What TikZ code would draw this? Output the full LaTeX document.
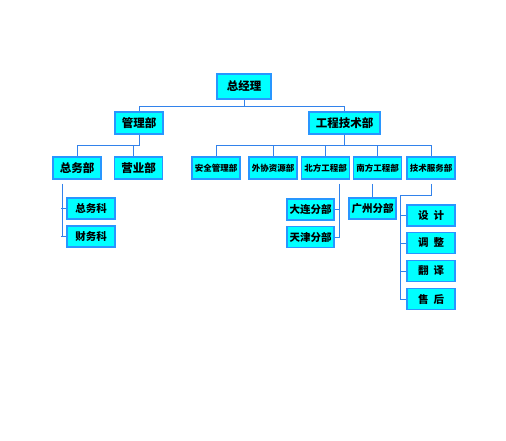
\documentclass[tikz,border=0pt]{standalone}
\usepackage{fontspec}
\setmainfont{Noto Sans CJK SC}
\usetikzlibrary{positioning}

\definecolor{boxedge}{RGB}{40,150,255}
\definecolor{boxfill}{RGB}{0,255,255}
\definecolor{linkblue}{RGB}{50,130,235}

\begin{document}
\begin{tikzpicture}[
    x=1pt, y=-1pt,
    every node/.style={font=\fontsize{10.5}{12}\selectfont\bfseries},
    unit/.style={draw=boxedge, line width=1.6pt, fill=boxfill, inner sep=0pt,
                 minimum width=48pt, minimum height=21pt},
    big/.style={font=\fontsize{11.5}{13}\selectfont\bfseries},
    small/.style={font=\fontsize{8.5}{10}\selectfont\bfseries},
    link/.style={draw=linkblue, line width=0.9pt}
]

\useasboundingbox (0,0) rectangle (506,440);

% --- Top level ---
\node[unit, big, minimum width=54pt, minimum height=25pt] (gm) at (244,86.5) {总经理};

% --- Departments ---
\node[unit, big, minimum height=22pt] (mgmt) at (139,123) {管理部};
\node[unit, big, minimum width=71pt, minimum height=22pt] (eng) at (344.5,123) {工程技术部};

% --- Second row ---
\node[unit, big, minimum height=22pt] (zwb) at (77,168) {总务部};
\node[unit, big, minimum height=22pt] (yyb) at (138.5,168) {营业部};
\node[unit, small, minimum height=22pt] (aq) at (216,168) {安全管理部};
\node[unit, small, minimum height=22pt] (wx) at (273,168) {外协资源部};
\node[unit, small, minimum height=22pt] (bf) at (325.5,168) {北方工程部};
\node[unit, small, minimum height=22pt] (nf) at (377.5,168) {南方工程部};
\node[unit, small, minimum height=22pt] (js) at (431,168) {技术服务部};

% --- Third row ---
\node[unit] (zwk) at (91,208.5) {总务科};
\node[unit] (cwk) at (91,236.5) {财务科};
\node[unit, minimum width=47pt] (dl) at (310.5,209.5) {大连分部};
\node[unit, minimum width=47pt] (tj) at (310.5,237) {天津分部};
\node[unit, minimum width=47pt] (gz) at (372.5,208.5) {广州分部};
\node[unit] (sj) at (431,215.5) {设\hspace{5pt}计};
\node[unit] (tz) at (431,243) {调\hspace{5pt}整};
\node[unit] (fy) at (431,271) {翻\hspace{5pt}译};
\node[unit] (sh) at (431,299) {售\hspace{5pt}后};

% --- Connectors ---
\draw[link] (gm.south) -- ++(0,6.5) coordinate (gmbus);
\draw[link] (gmbus) -| (mgmt.north);
\draw[link] (gmbus) -| (eng.north);

\draw[link] (mgmt.south) -- ++(0,11) coordinate (mgbus);
\draw[link] (mgbus) -| (zwb.north);
\draw[link] (mgbus) -| ([xshift=-5.5pt]yyb.north);

\draw[link] (eng.south) -- ++(0,11) coordinate (engbus);
\foreach \n in {aq,wx,bf,nf,js}
    \draw[link] (engbus) -| (\n.north);

\draw[link] ([xshift=-15pt,yshift=-4pt]zwb.south) |- ([xshift=-5pt]zwk.west) -- (zwk.west);
\draw[link] ([xshift=-15pt,yshift=-4pt]zwb.south) |- ([xshift=-5pt]cwk.west) -- (cwk.west);

\draw[link] ([xshift=13.5pt,yshift=-4pt]bf.south) |- (dl.east);
\draw[link] ([xshift=13.5pt,yshift=-4pt]bf.south) |- (tj.east);

\coordinate (nfdrop) at ([yshift=-4pt]nf.south);
\draw[link] (nfdrop -| gz.north) -- (gz.north);

\draw[link] ([yshift=-4pt]js.south) -- ++(0,12) -| ([xshift=-6pt]sh.west) -- (sh.west);
\foreach \n in {sj,tz,fy}
    \draw[link] ([xshift=-6pt]\n.west) -- (\n.west);

\end{tikzpicture}
\end{document}
